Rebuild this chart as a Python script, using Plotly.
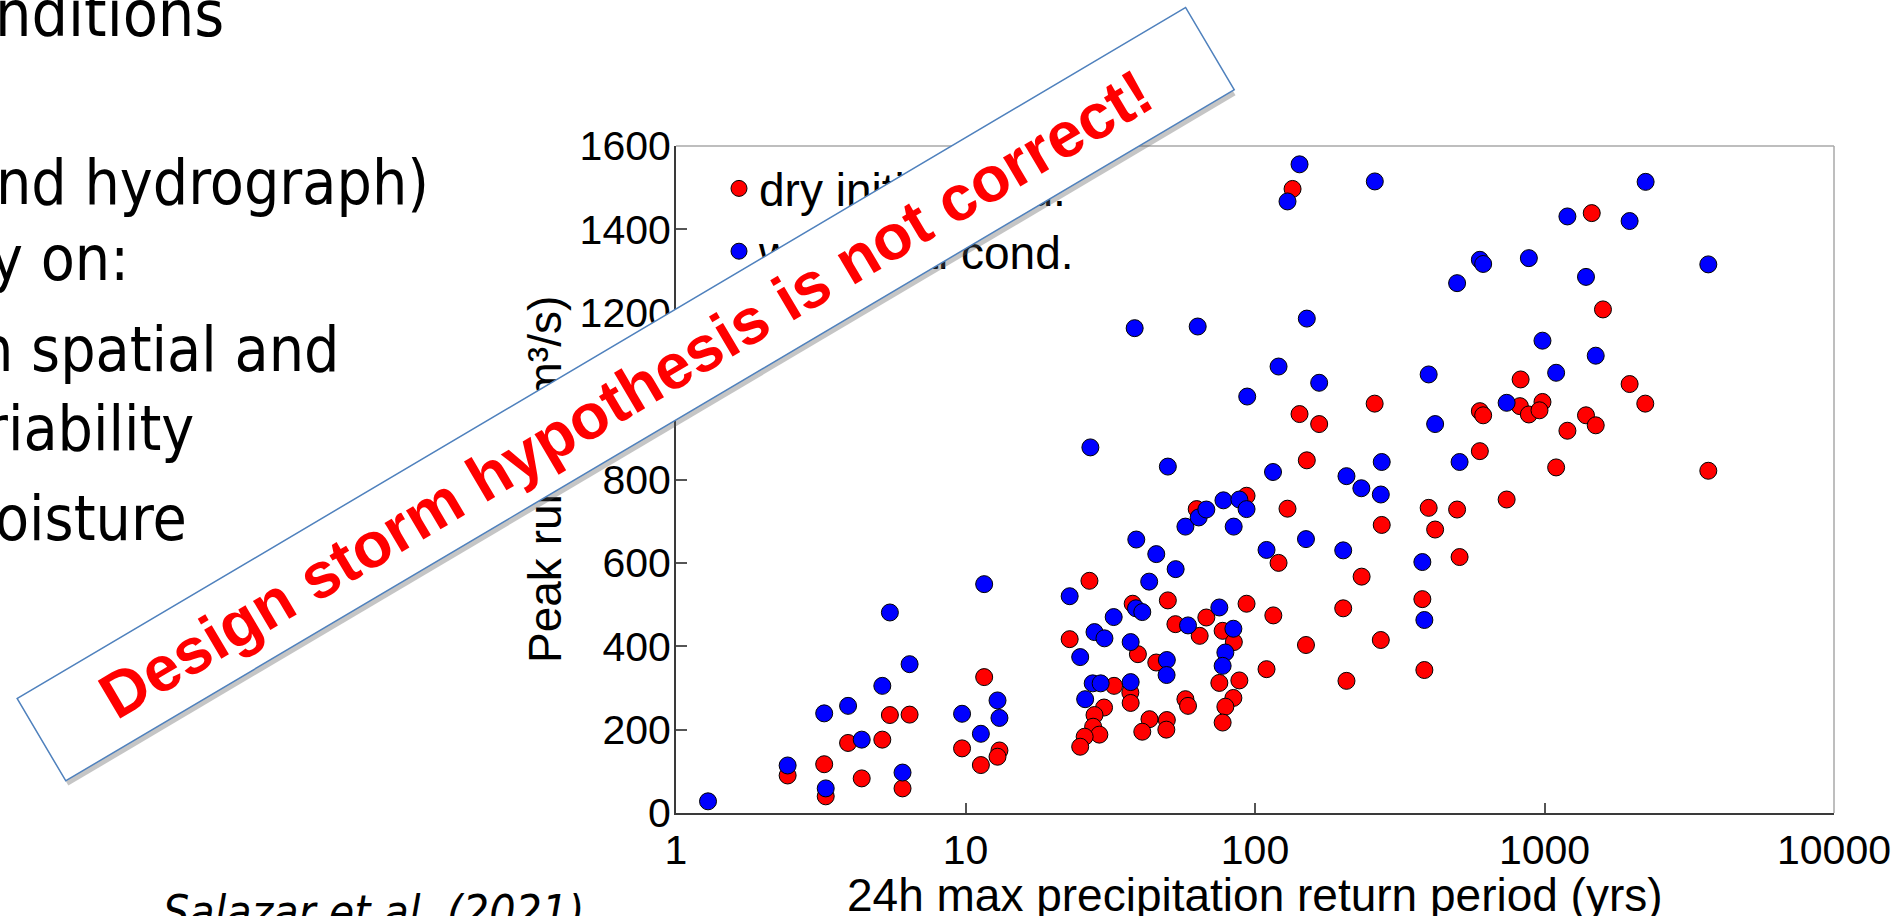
import plotly.graph_objects as go

# ---------------- data ----------------
dry_x = [2.43, 3.29, 3.25, 3.93, 4.38, 5.16, 5.48, 6.41, 6.06, 9.73, 11.6, 13.1, 12.9, 11.3,
         26.8, 22.9, 37.8, 50.0, 93.5, 93.5, 62.9, 53.1, 67.9, 64.4, 77.3, 84.5, 39.4, 45.6,
         32.6, 37.1, 37.2, 30.1, 27.9, 27.6, 29.0, 25.8, 24.9, 43.2, 49.6, 49.4, 40.8, 57.5,
         58.7, 75.3, 88.3, 84.2, 79.0, 77.3,
         134.8, 142.5, 166.6, 259, 151, 129.5, 398, 499, 598, 614, 827, 822, 883, 598, 740,
         274, 419, 509, 120.6, 233.5, 115.7, 201.7, 378.5, 150, 272, 109.6, 207, 384.6,
         1456, 1592, 1968, 2229, 984, 961, 1391, 1503, 1200, 1097, 3680]
dry_y = [90, 40, 117, 168, 83, 176, 235, 236, 59, 155, 326, 150, 135, 115,
         557, 417, 502, 510, 502, 761, 729, 453, 469, 425, 437, 410, 381, 361,
         305, 289, 264, 253, 235, 207, 188, 183, 159, 225, 223, 200, 195, 273,
         257, 312, 318, 276, 255, 217,
         1497, 957, 933, 982, 846, 730, 732, 728, 964, 954, 1040, 976, 956, 868, 752,
         691, 680, 614, 600, 567, 474, 491, 513, 403, 415, 345, 317, 343,
         1439, 1208, 1029, 982, 986, 966, 954, 930, 917, 829, 821]

wet_x = [1.29, 2.43, 3.29, 3.25, 3.93, 4.38, 5.16, 5.48, 6.41, 6.06, 9.73, 11.6, 12.9, 13.1, 11.3,
         94.0, 27.0, 50.0, 22.9, 38.9, 45.6, 53.2, 43.1, 57.5, 63.9, 67.9, 77.8, 88.3, 93.5,
         84.4, 38.8, 40.8, 32.5, 27.9, 30.2, 24.9, 37.2, 75.3, 58.7, 84.2, 79.0, 77.3, 49.6,
         49.5, 27.5, 29.3, 37.2, 25.9, 38.4, 63.4,
         142.5, 129.5, 259.3, 598, 614, 883, 499, 151, 120.6, 166.6, 398, 419, 115.4, 207,
         233, 274, 272, 509, 740, 984, 150, 109.6, 201.7, 378.5, 384.6,
         2235, 1200, 1968, 1391, 3680, 1503, 1097]
wet_y = [28, 114, 59, 239, 257, 176, 305, 481, 357, 97, 238, 549, 270, 228, 190,
         999, 877, 831, 520, 656, 621, 585, 555, 687, 709, 728, 750, 752, 729,
         687, 491, 482, 470, 434, 419, 374, 410, 493, 450, 442, 385, 353, 367,
         331, 311, 311, 314, 273, 1163, 1167,
         1556, 1467, 1515, 1327, 1317, 1331, 1271, 1186, 1071, 1032, 1052, 933, 818, 808,
         779, 842, 764, 842, 984, 1133, 657, 631, 630, 602, 463,
         1514, 1431, 1420, 1286, 1316, 1097, 1056]

series_names = ["dry initial cond.", "wet initial cond."]
x_tickvals = [1, 10, 100, 1000, 10000]
x_ticktext = ["1", "10", "100", "1000", "10000"]
y_tickvals = [0, 200, 400, 600, 800, 1000, 1200, 1400, 1600]

slide_lines = ["nditions", "nd hydrograph)", "y on:", "n spatial and", "riability", "oisture"]
citation = "Salazar et al. (2021)"
banner_text = "Design storm hypothesis is not correct!"

# ---------------- layout geometry ----------------
W, H = 1898, 916
ML, MR, MT, MB = 676, 64, 146, 103
PW = W - ML - MR
PH = H - MT - MB


def pxx(x):
    return (x - ML) / PW


def pxy(y):
    return (H - MB - y) / PH


ARIAL = "Liberation Sans, Arial, sans-serif"
SLIDE = "Tahoma, DejaVu Sans Condensed, DejaVu Sans, sans-serif"

fig = go.Figure()
fig.add_trace(go.Scatter(
    x=dry_x, y=dry_y, mode="markers", name=series_names[0], legendgroup="a",
    marker=dict(size=17, color="#FF0000", line=dict(color="black", width=1))))
fig.add_trace(go.Scatter(
    x=wet_x, y=wet_y, mode="markers", name=series_names[1], legendgroup="b",
    marker=dict(size=17, color="#0000FF", line=dict(color="black", width=1))))

axis_common = dict(showgrid=False, zeroline=False, showline=True, linecolor="#3a3a3a",
                   linewidth=2, ticks="inside", tickcolor="#555555", tickwidth=1.5,
                   automargin=False, tickfont=dict(family=ARIAL, size=41, color="black"))

fig.update_xaxes(type="log", range=[0, 4], tickvals=x_tickvals, ticktext=x_ticktext,
                 ticklen=10, **axis_common)
fig.update_yaxes(range=[0, 1600], tickvals=y_tickvals, ticklen=11, ticklabelstandoff=-5,
                 **axis_common)

shapes = [
    dict(type="line", xref="paper", yref="paper", x0=0, x1=1, y0=1, y1=1,
         line=dict(color="#a8a8a8", width=1.5)),
    dict(type="line", xref="paper", yref="paper", x0=1, x1=1, y0=0, y1=1,
         line=dict(color="#a8a8a8", width=1.5)),
]

annotations = []
# slide text on the left (right edges measured)
line_right = [226, 431, 131, 341, 196, 189]
line_base = [36, 204, 280, 371, 450, 540]
line_size = [64, 62, 62, 62, 62, 62]
for t, r, b, s in zip(slide_lines, line_right, line_base, line_size):
    annotations.append(dict(text=t, xref="paper", yref="paper", x=pxx(r), y=pxy(b - 0.346 * s),
                            xanchor="right", yanchor="middle", showarrow=False,
                            font=dict(family=SLIDE, size=s, color="black")))
annotations.append(dict(text=citation, xref="paper", yref="paper", x=pxx(373), y=pxy(912),
                        xanchor="center", yanchor="middle", showarrow=False,
                        font=dict(family=SLIDE, size=46, color="black", style="italic")))

# axis titles
annotations.append(dict(text="24h max precipitation return period (yrs)", xref="paper", yref="paper",
                        x=pxx(1255), y=pxy(895), xanchor="center", yanchor="middle",
                        showarrow=False, font=dict(family=ARIAL, size=46, color="black")))
annotations.append(dict(text="Peak runoff (m³/s)", xref="paper", yref="paper",
                        x=pxx(545), y=pxy(480), xanchor="center", yanchor="middle", textangle=-90,
                        showarrow=False, font=dict(family=ARIAL, size=46, color="black")))

# banner (shadow + box)
BCX, BCY, BANG, BLEN, BWID = 625, 394, -30.6, 1356, 94
annotations.append(dict(text=banner_text, xref="paper", yref="paper", x=pxx(BCX), y=pxy(BCY),
                        xanchor="center", yanchor="middle", showarrow=False, textangle=BANG,
                        width=BLEN, height=BWID, xshift=3, yshift=-6,
                        bgcolor="rgba(90,90,90,0.35)", borderwidth=0, borderpad=0,
                        font=dict(family=ARIAL, size=64, color="rgba(0,0,0,0)", weight="bold")))
annotations.append(dict(text=banner_text, xref="paper", yref="paper", x=pxx(BCX), y=pxy(BCY),
                        xanchor="center", yanchor="middle", showarrow=False, textangle=BANG,
                        width=BLEN, height=BWID,
                        bgcolor="white", bordercolor="#4F81BD", borderwidth=1.5, borderpad=0,
                        font=dict(family=ARIAL, size=64, color="#FF0000", weight="bold")))

fig.update_layout(
    width=W, height=H,
    margin=dict(l=ML, r=MR, t=MT, b=MB, pad=0, autoexpand=False),
    paper_bgcolor="white", plot_bgcolor="white",
    font=dict(family=ARIAL, size=41, color="black"),
    showlegend=True,
    legend=dict(x=pxx(719), y=pxy(152), xanchor="left", yanchor="top",
                bgcolor="rgba(0,0,0,0)", borderwidth=0, traceorder="grouped",
                tracegroupgap=0, font=dict(family=ARIAL, size=46, color="black")),
    shapes=shapes, annotations=annotations,
)

fig.write_html("out.html")
